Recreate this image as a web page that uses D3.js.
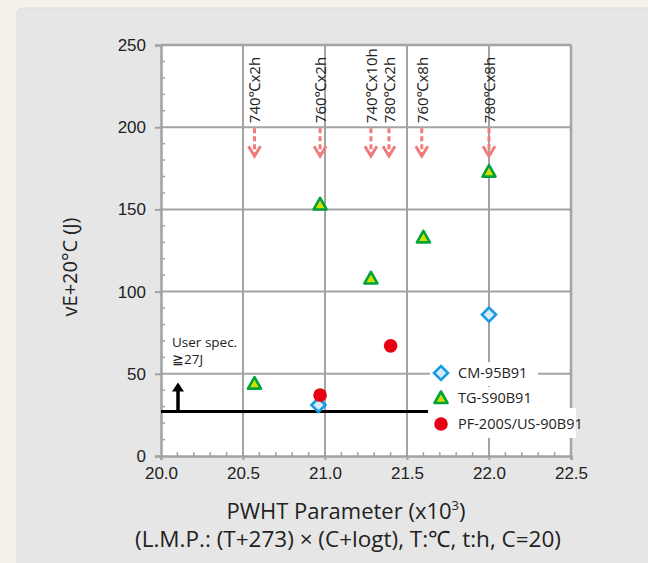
<!DOCTYPE html>
<html><head><meta charset="utf-8">
<script src="https://cdn.jsdelivr.net/npm/d3@7"></script>
<style>
html,body{margin:0;padding:0;background:#f4f1eb;}
svg{display:block;font-family:"Open Sans","Noto Sans",sans-serif;}
</style></head>
<body>
<svg id="c" width="648" height="563"></svg>
<script>
const xTicks = [20.0, 20.5, 21.0, 21.5, 22.0, 22.5];
const yTicks = [0, 50, 100, 150, 200, 250];
const cmX = [20.96, 22.0];
const cmY = [31, 86];
const tgX = [20.57, 20.97, 21.28, 21.6, 22.0];
const tgY = [44, 153, 108, 133, 173];
const pfX = [20.97, 21.4];
const pfY = [37, 67];
const condX = [20.57, 20.97, 21.28, 21.39, 21.59, 22.0];
const condLabels = ["740℃x2h", "760℃x2h", "740℃x10h", "780℃x2h", "760℃x8h", "780℃x8h"];
const specValue = 27;
const seriesNames = ["CM-95B91", "TG-S90B91", "PF-200S/US-90B91"];

const svg = d3.select("#c");
const L = 161, R = 571, T = 45, B = 456;
const x = d3.scaleLinear().domain([20, 22.5]).range([L, R]);
const y = d3.scaleLinear().domain([0, 250]).range([B, T]);
const grid = "#a3a3a3";

// panel
svg.append("rect").attr("x", 17).attr("y", 8).attr("width", 660).attr("height", 600)
  .attr("rx", 6).attr("fill", "#e6e6e6").attr("stroke", "#dcdcdc");

// plot background
svg.append("rect").attr("x", L).attr("y", T).attr("width", R - L).attr("height", B - T).attr("fill", "#fff");

// gridlines
svg.append("g").selectAll("line").data(xTicks.slice(1)).join("line")
  .attr("x1", d => x(d)).attr("x2", d => x(d)).attr("y1", T).attr("y2", B)
  .attr("stroke", grid).attr("stroke-width", 2);
svg.append("g").selectAll("line").data(yTicks.slice(1)).join("line")
  .attr("x1", L).attr("x2", R).attr("y1", d => y(d)).attr("y2", d => y(d))
  .attr("stroke", grid).attr("stroke-width", 2);

// minor ticks
const yMinor = d3.range(0, 251, 10).filter(v => v % 50 !== 0);
svg.append("g").selectAll("line").data(yMinor).join("line")
  .attr("x1", L).attr("x2", L + 4).attr("y1", d => y(d)).attr("y2", d => y(d))
  .attr("stroke", grid).attr("stroke-width", 1.5);
const xMinor = d3.range(0, 26).map(i => 20 + i * 0.1).filter((v, i) => i % 5 !== 0);
svg.append("g").selectAll("line").data(xMinor).join("line")
  .attr("x1", d => x(d)).attr("x2", d => x(d)).attr("y1", B).attr("y2", B - 4)
  .attr("stroke", grid).attr("stroke-width", 1.5);

// axes
const yAxis = d3.axisLeft(y).tickValues(yTicks).tickSize(6).tickFormat(d3.format("d"));
const gy = svg.append("g").attr("transform", `translate(${L},0)`).call(yAxis);
const xAxis = d3.axisBottom(x).tickValues(xTicks).tickSize(4).tickFormat(d3.format(".1f"));
const gx = svg.append("g").attr("transform", `translate(0,${B})`).call(xAxis);
[gy, gx].forEach(g => {
  g.select(".domain").attr("stroke", grid).attr("stroke-width", 2.5);
  g.selectAll(".tick line").attr("stroke", grid).attr("stroke-width", 2);
  g.selectAll("text").attr("fill", "#222").style("font-size", "17px").style("font-family", "inherit");
});
gy.selectAll("text").attr("x", -15).attr("dy", "0.32em");
gx.selectAll("text").attr("y", 11);
// top and right border
svg.append("line").attr("x1", L).attr("x2", R).attr("y1", T).attr("y2", T).attr("stroke", grid).attr("stroke-width", 2.5);
svg.append("line").attr("x1", R).attr("x2", R).attr("y1", T).attr("y2", B).attr("stroke", grid).attr("stroke-width", 2.5);

// condition arrows and labels
const arrowCol = "#f07b7b";
const ag = svg.append("g");
condX.forEach((cx, i) => {
  const px = x(cx);
  ag.append("line").attr("x1", px).attr("x2", px).attr("y1", y(200) + 1).attr("y2", y(200) + 28)
    .attr("stroke", arrowCol).attr("stroke-width", 3).attr("stroke-dasharray", "5,3");
  ag.append("path").attr("d", `M${px - 6},${y(200) + 19} L${px},${y(200) + 29} L${px + 6},${y(200) + 19}`)
    .attr("fill", "none").attr("stroke", arrowCol).attr("stroke-width", 3).attr("stroke-linejoin", "miter");
  ag.append("text").attr("transform", `translate(${px + 6},${y(200) - 4}) rotate(-90)`)
    .attr("font-size", 15).attr("fill", "#222").text(condLabels[i]);
});

// spec line
svg.append("line").attr("x1", L).attr("x2", 428).attr("y1", y(specValue)).attr("y2", y(specValue))
  .attr("stroke", "#000").attr("stroke-width", 3);
svg.append("line").attr("x1", 178).attr("x2", 178).attr("y1", y(specValue)).attr("y2", y(specValue) - 22)
  .attr("stroke", "#000").attr("stroke-width", 3.5);
svg.append("path").attr("d", `M172,${y(specValue) - 20} L178,${y(specValue) - 29} L184,${y(specValue) - 20} Z`).attr("fill", "#000");
svg.append("text").attr("x", 172).attr("y", 347).attr("font-size", 13.5).attr("fill", "#222").text("User spec.");
svg.append("text").attr("x", 172).attr("y", 364).attr("font-size", 13.5).attr("fill", "#222").text("≧27J");

// markers
function diamond(g, cx, cy) {
  g.append("path").attr("d", `M${cx},${cy - 7} L${cx + 7},${cy} L${cx},${cy + 7} L${cx - 7},${cy} Z`)
    .attr("fill", "#d6ecfa").attr("stroke", "#1a9ae6").attr("stroke-width", 2.6);
}
function tri(g, cx, cy) {
  g.append("path").attr("d", `M${cx},${cy - 6.5} L${cx + 6.5},${cy + 5} L${cx - 6.5},${cy + 5} Z`)
    .attr("fill", "#d2e000").attr("stroke", "#00a23c").attr("stroke-width", 2.6).attr("stroke-linejoin", "round");
}
function dot(g, cx, cy) {
  g.append("circle").attr("cx", cx).attr("cy", cy).attr("r", 6.8).attr("fill", "#e60012");
}
const mg = svg.append("g");
cmX.forEach((v, i) => diamond(mg, x(v), y(cmY[i])));
tgX.forEach((v, i) => tri(mg, x(v), y(tgY[i])));
pfX.forEach((v, i) => dot(mg, x(v), y(pfY[i])));

// legend
const lg = svg.append("g");
const rows = [373, 398, 424];
const rowW = [108, 108, 146];
rows.forEach((ry, i) => {
  lg.append("rect").attr("x", 430).attr("y", ry - 11).attr("width", rowW[i]).attr("height", 24).attr("fill", "#fff");
});
lg.append("rect").attr("x", 430).attr("y", 408).attr("width", 146).attr("height", 30).attr("fill", "#fff");
diamond(lg, 441, rows[0]);
tri(lg, 441, rows[1]);
dot(lg, 441, rows[2]);
seriesNames.forEach((n, i) => {
  lg.append("text").attr("x", 458).attr("y", rows[i]).attr("dy", "0.36em")
    .attr("font-size", 14.5).attr("fill", "#222").text(n);
});

// axis titles
svg.append("text").attr("x", 346).attr("y", 519).attr("text-anchor", "middle")
  .attr("font-size", 22).attr("fill", "#222")
  .html('PWHT Parameter (x10<tspan font-size="13" dy="-9">3</tspan><tspan dy="9">)</tspan>');
svg.append("text").attr("x", 348).attr("y", 547).attr("text-anchor", "middle")
  .attr("font-size", 22.5).attr("fill", "#222").text("(L.M.P.: (T+273) × (C+logt), T:℃, t:h, C=20)");
svg.append("text").attr("transform", "translate(77,267) rotate(-90)").attr("text-anchor", "middle")
  .attr("font-size", 20).attr("fill", "#222").text("vE+20°C (J)");
</script>
</body></html>
